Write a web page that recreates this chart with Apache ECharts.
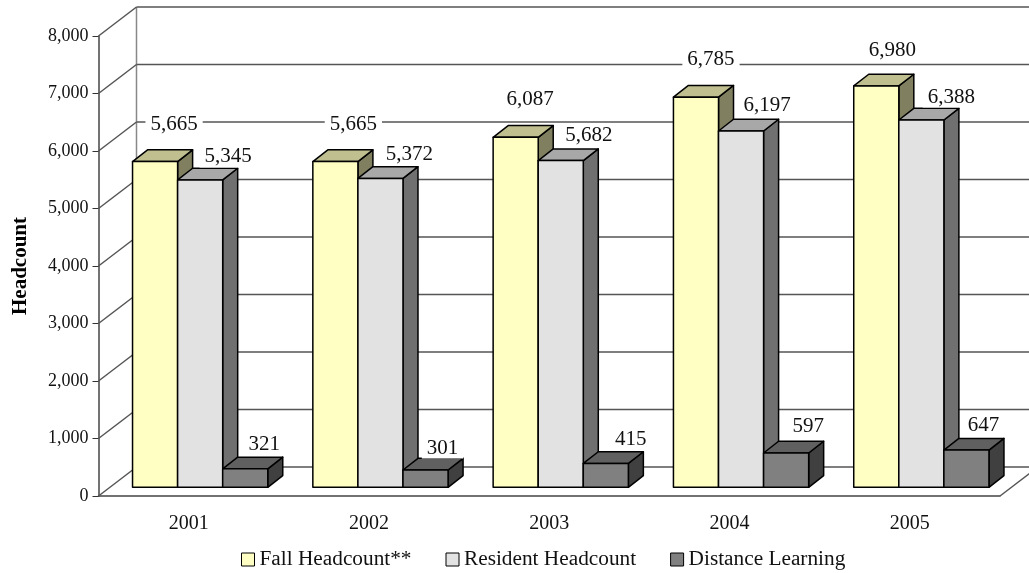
<!DOCTYPE html>
<html><head><meta charset="utf-8">
<script src="https://cdn.jsdelivr.net/npm/echarts@6/dist/echarts.min.js"></script>
<style>html,body{margin:0;padding:0;background:#fff}#c{width:1029px;height:573px}</style>
</head><body><div id="c"></div>
<script>
const years = ['2001','2002','2003','2004','2005'];
const fallHeadcount = [5665,5665,6087,6785,6980];
const residentHeadcount = [5345,5372,5682,6197,6388];
const distanceLearning = [321,301,415,597,647];
const yTicks = [0,1000,2000,3000,4000,5000,6000,7000,8000];
const fallLabelShift = [[19,-37],[18,-37],[14.5,-37.5],[15,-38],[16,-35]];
const residentLabelShift = [[28,-23],[29,-24],[28,-25.5],[26,-25],[30,-23]];
const distanceLabelShift = [[19,-24],[17,-22],[25,-24],[22,-26],[17,-25]];

const WALL = [38,-29], PLANE = [11.5,-8.7], DEPTH = [15,-11.7];
const FONT = '"Liberation Serif","Times New Roman",serif';

function barRender(slot, colors, shifts) {
  return function (params, api) {
    const i = api.value(0), v = api.value(1);
    const w = api.size([1,0])[0] * 0.25;
    const top = api.coord([i,v]), base = api.coord([i,0]);
    const cx = top[0] + slot*w + PLANE[0];
    const l = cx - w/2, r = cx + w/2;
    const t = top[1] + PLANE[1], b = base[1] + PLANE[1];
    const [dx,dy] = DEPTH;
    const st = c => ({fill:c, stroke:'#000', lineWidth:1.5, lineJoin:'round'});
    const s = shifts[i];
    const txt = v.toLocaleString('en-US');
    return {type:'group', children:[
      {type:'polygon', shape:{points:[[r,t],[r+dx,t+dy],[r+dx,b+dy],[r,b]]}, style:st(colors[2])},
      {type:'polygon', shape:{points:[[l,t],[l+dx,t+dy],[r+dx,t+dy],[r,t]]}, style:st(colors[1])},
      {type:'rect', shape:{x:l,y:t,width:w,height:b-t}, style:st(colors[0])},
      {type:'text', z2:50, style:{text:txt, x:cx+s[0], y:t+s[1], align:'center', verticalAlign:'middle',
        font:'21px '+FONT, fill:'#111', backgroundColor:'#fff', padding:[0,5]}}
    ]};
  };
}
function wallRender(params, api) {
  const v = api.value(1), p = api.coord([0,v]);
  const cs = params.coordSys;
  const x0 = cs.x, y = p[1];
  const x1 = x0 + WALL[0], y1 = y + WALL[1];
  const line = {stroke:'#555',lineWidth:1.5};
  const kids = [
    {type:'line', shape:{x1:x0,y1:y,x2:x1,y2:y1}, style:line},
    {type:'line', shape:{x1:x1,y1:y1,x2:cs.x+cs.width+WALL[0],y2:y1}, style:line}
  ];
  if (v === 0) {
    kids.push({type:'line', shape:{x1:cs.x+cs.width,y1:y,x2:cs.x+cs.width+WALL[0],y2:y1}, style:line});
    kids.push({type:'line', shape:{x1:x1,y1:y1,x2:x1,y2:y1-cs.height}, style:{stroke:'#888',lineWidth:1.5}});
  }
  return {type:'group', children:kids};
}
function rows(a){ return a.map((v,i)=>[i,v]); }

const chart = echarts.init(document.getElementById('c'), null, {renderer:'canvas'});
chart.setOption({
  animation:false,
  backgroundColor:'#fff',
  textStyle:{fontFamily:FONT},
  grid:{left:98.5, right:29, top:36, bottom:77, containLabel:false, outerBoundsMode:'none'},
  legend:{
    data:['Fall Headcount**','Resident Headcount','Distance Learning'],
    left:241, top:549, padding:0, itemWidth:13, itemHeight:13, itemGap:34,
    icon:'rect',
    textStyle:{fontFamily:FONT, fontSize:21.3, color:'#111'},
    itemStyle:{borderColor:'#000', borderWidth:1}
  },
  xAxis:{type:'category', data:years, boundaryGap:true,
    axisLine:{lineStyle:{color:'#444',width:1.5}},
    axisTick:{length:7, lineStyle:{color:'#333',width:1}, alignWithLabel:false},
    axisLabel:{fontFamily:FONT, fontSize:20, color:'#111', margin:18},
    splitLine:{show:false}},
  yAxis:{type:'value', min:0, max:8000, interval:1000,
    name:'Headcount', nameLocation:'middle', nameGap:67, nameRotate:90,
    nameTextStyle:{fontFamily:FONT, fontSize:21, fontWeight:'bold', color:'#000'},
    axisLine:{show:true, lineStyle:{color:'#444',width:1.5}},
    axisTick:{show:true, length:6, lineStyle:{color:'#333',width:1}},
    axisLabel:{fontFamily:FONT, fontSize:18, color:'#111', margin:10,
      formatter:v=>v.toLocaleString('en-US')},
    splitLine:{show:false}},
  series:[
    {type:'custom', name:'grid', silent:true, clip:false, data:yTicks.map(v=>[0,v]), renderItem:wallRender,
     encode:{x:0,y:1}, z:1},
    {type:'custom', name:'Fall Headcount**', clip:false, data:rows(fallHeadcount), encode:{x:0,y:1}, z:2,
     itemStyle:{color:'#FFFFC4'},
     renderItem:barRender(-1,['#FFFFC4','#BFBF90','#808060'],fallLabelShift)},
    {type:'custom', name:'Resident Headcount', clip:false, data:rows(residentHeadcount), encode:{x:0,y:1}, z:3,
     itemStyle:{color:'#E2E2E2'},
     renderItem:barRender(0,['#E2E2E2','#A8A8A8','#707070'],residentLabelShift)},
    {type:'custom', name:'Distance Learning', clip:false, data:rows(distanceLearning), encode:{x:0,y:1}, z:4,
     itemStyle:{color:'#808080'},
     renderItem:barRender(1,['#808080','#606060','#404040'],distanceLabelShift)}
  ]
});
</script></body></html>
